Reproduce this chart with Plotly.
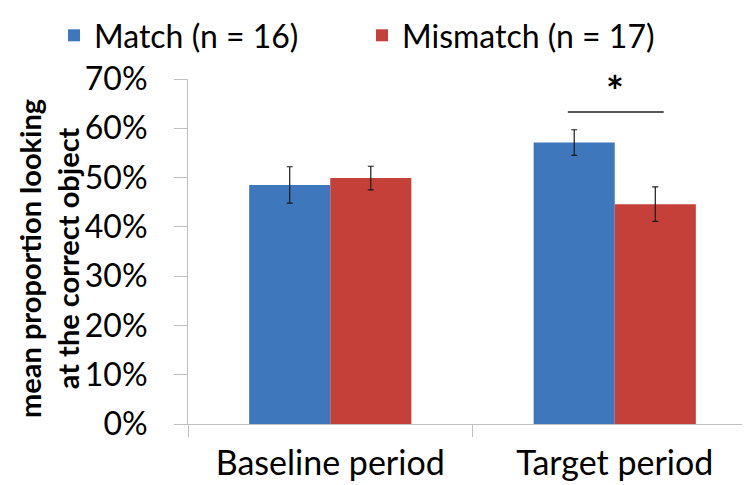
import plotly.graph_objects as go

categories = ["Baseline period", "Target period"]
series_names = ["Match (n = 16)", "Mismatch (n = 17)"]
match_vals = [0.485, 0.571]
match_err = [0.037, 0.026]
mismatch_vals = [0.499, 0.446]
mismatch_err = [0.024, 0.035]
y_ticks = [0, 0.1, 0.2, 0.3, 0.4, 0.5, 0.6, 0.7]
y_tick_labels = ["0%", "10%", "20%", "30%", "40%", "50%", "60%", "70%"]

BLUE = "#3F77BC"
RED = "#C6403A"
FONT = "Lato, Carlito, Calibri, sans-serif"

fig = go.Figure()
fig.add_trace(go.Bar(
    x=categories, y=match_vals, name=series_names[0], legend="legend",
    marker=dict(color=BLUE, line=dict(width=0)),
    error_y=dict(type="data", array=match_err, visible=True,
                 color="#1a1a1a", thickness=1.2, width=3),
))
fig.add_trace(go.Bar(
    x=categories, y=mismatch_vals, name=series_names[1], legend="legend2",
    marker=dict(color=RED, line=dict(width=0)),
    error_y=dict(type="data", array=mismatch_err, visible=True,
                 color="#1a1a1a", thickness=1.2, width=3),
))

# significance bar and asterisk
fig.add_shape(type="line", xref="x", yref="y", x0=0.835, x1=1.172, y0=0.633, y1=0.633,
              line=dict(color="#222222", width=1.5))
fig.add_annotation(x=1, y=0.676, xref="x", yref="y", text="<b>*</b>", showarrow=False,
                   yanchor="middle", font=dict(family=FONT, size=42, color="#000000"))

# y-axis title
fig.add_annotation(x=-(180 - 40) / 569, y=(416 - 251) / 345, xref="paper", yref="paper",
                   xanchor="center", yanchor="middle", textangle=-90, showarrow=False,
                   text="<b>mean proportion looking<br>at the correct object</b>",
                   font=dict(family=FONT, size=29, color="#000000"))

legend_common = dict(orientation="h", xref="container", yref="container",
                     xanchor="left", yanchor="top", y=1.0,
                     font=dict(family=FONT, size=32, color="#000000"),
                     bgcolor="rgba(0,0,0,0)", itemclick=False, itemdoubleclick=False)

fig.update_layout(
    width=750, height=485,
    margin=dict(l=180, r=1, t=71, b=69, autoexpand=False),
    paper_bgcolor="white", plot_bgcolor="white",
    barmode="group", bargap=0.43, bargroupgap=0,
    font=dict(family=FONT, color="#000000"),
    showlegend=True,
    legend=dict(x=46 / 750, **legend_common),
    legend2=dict(x=354 / 750, **legend_common),
    xaxis=dict(
        type="category", showline=True, linecolor="#BFBFBF", linewidth=1,
        ticks="outside", tickson="boundaries", ticklen=12, tickcolor="#BFBFBF",
        tickfont=dict(family=FONT, size=34, color="#000000"), ticklabelstandoff=9,
        showgrid=False, zeroline=False, automargin=False,
    ),
    yaxis=dict(
        range=[0, 0.7], tickvals=y_ticks, ticktext=y_tick_labels,
        showline=True, linecolor="#BFBFBF", linewidth=1,
        ticks="outside", ticklen=13, tickcolor="#BFBFBF",
        tickfont=dict(family=FONT, size=32, color="#000000"), ticklabelstandoff=20,
        showgrid=False, zeroline=False, automargin=False,
    ),
)

fig.write_html("out.html")
